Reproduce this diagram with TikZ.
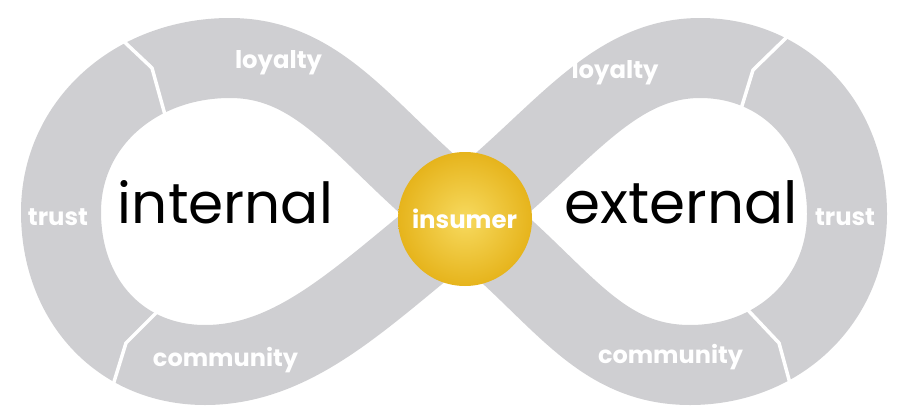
\documentclass[tikz,border=0pt]{standalone}
\usepackage{fontspec}
\setmainfont{Poppins}
\newcommand\fitto[2]{\resizebox{#1}{!}{#2}}
\definecolor{band}{RGB}{207,207,210}
\definecolor{goldout}{RGB}{230,180,28}
\definecolor{goldin}{RGB}{247,218,95}
\tikzset{
  bandline/.style={draw=band, line width=80pt, line join=round},
  cutline/.style={draw=white, line width=3.5pt},
  biglabel/.style={anchor=base, text=black, inner sep=0pt},
  bandlabel/.style={anchor=base, text=white, inner sep=0pt, font=\bfseries},
  hub/.style={circle, minimum size=134pt, inner sep=0pt, inner color=goldin, outer color=goldout}
}
\begin{document}
\begin{tikzpicture}[x=1pt,y=-1pt]
\useasboundingbox (0,0) rectangle (901,412);
% infinity band (centre line)
\coordinate (C) at (464,215);
\coordinate (RT) at (700,58);
\coordinate (R) at (847,214);
\coordinate (RB) at (690,365);
\coordinate (LT) at (230,58);
\coordinate (L) at (61,212);
\coordinate (LB) at (205,365);
\path[bandline]
  (C) .. controls (558.6,141.6) and (610,58) .. (RT)
      .. controls (785,58) and (847,124) .. (R)
      .. controls (847,299) and (780,365) .. (RB)
      .. controls (595,365) and (558.6,288.4) .. (C)
      .. controls (369.4,141.6) and (325,58) .. (LT)
      .. controls (135,58) and (61,124) .. (L)
      .. controls (61,300) and (120,365) .. (LB)
      .. controls (300,365) and (369.4,288.4) .. (C);
% segment cuts
\draw[cutline] (117,35) -- (152,68) -- (167,122);
\draw[cutline] (161,308) -- (126,343) -- (109,398);
\draw[cutline] (789,35) -- (753,70) -- (737,122);
\draw[cutline] (745,307) -- (779,343) -- (794,398);
% band labels
\node[bandlabel] (loyL) at (278.5,68) {\fitto{87pt}{loyalty}};
\node[bandlabel] (loyR) at (615,78) {\fitto{87pt}{loyalty}};
\node[bandlabel] (trL) at (58,225) {\fitto{60pt}{trust}};
\node[bandlabel] (trR) at (845,225) {\fitto{60pt}{trust}};
\node[bandlabel] (comL) at (225.5,366) {\fitto{145pt}{community}};
\node[bandlabel] (comR) at (670.5,363) {\fitto{145pt}{community}};
% big labels
\node[biglabel] (int) at (225.5,223) {\fitto{215pt}{internal}};
\node[biglabel] (ext) at (681.5,223) {\fitto{233pt}{external}};
% hub
\node[hub] (hubc) at (465,219) {};
\node[bandlabel] (ins) at (464.5,228) {\fitto{105pt}{insumer}};
\end{tikzpicture}
\end{document}
